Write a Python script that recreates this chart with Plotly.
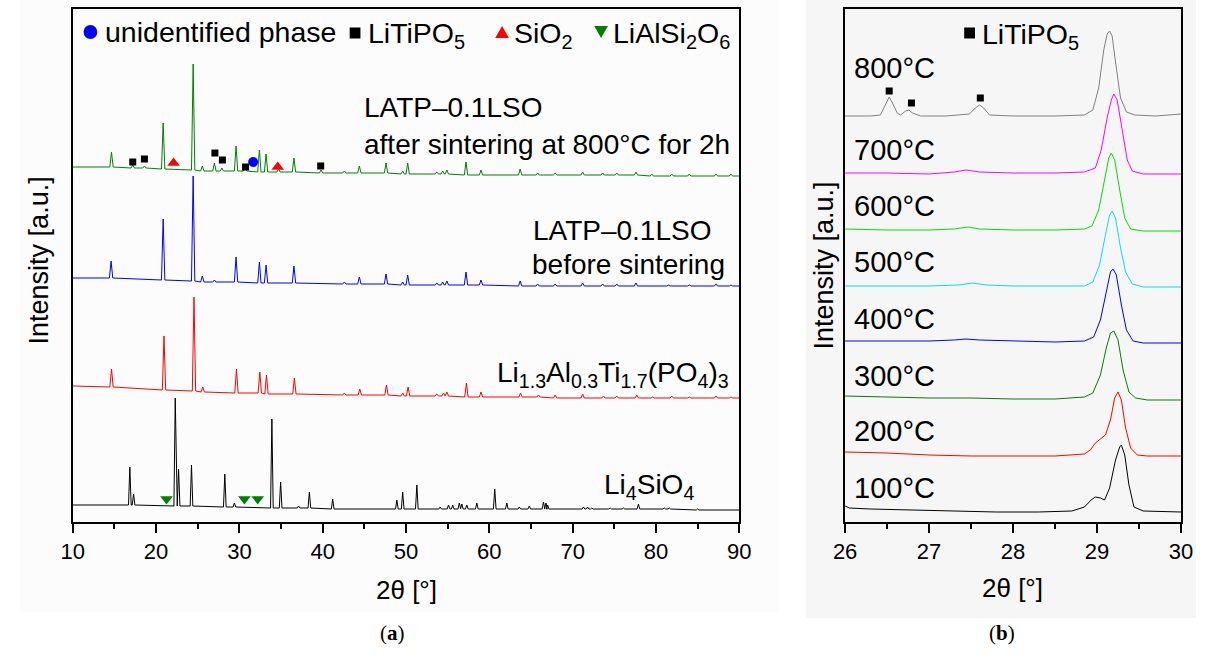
import plotly.graph_objects as go

W, H = 1208, 659

# ---------------- Panel (a) data : XRD patterns (2theta in deg, intensity a.u. incl. offset) ----------------
A_RANGE = [10, 90]

# LATP-0.1LSO after sintering at 800 C for 2h (green)
g_ends = [344, 335]
g_pos = [14.65, 17.2, 18.6, 20.85, 24.45, 25.55, 27.0, 27.9, 29.6, 30.7, 32.4, 33.2, 34.7, 36.55, 39.8, 42.6, 44.4,
         47.6, 49.6, 50.2, 53.7, 54.4, 54.9, 57.2, 59.0, 63.7, 65.8, 67.9, 71.2, 73.6, 75.3, 77.6, 79.5, 81.9, 84.0,
         87.2, 89.0]
g_base = [344, 343, 343, 342, 341, 340, 340, 340, 340, 340, 339, 339, 339, 339, 338, 338, 338, 338, 337, 337, 337,
          337, 337, 336, 336, 336, 336, 336, 336, 336, 336, 336, 335, 335, 335, 335, 335]
g_top = [359, 346, 345, 388, 447, 345, 348, 343, 365, 343, 361, 357, 342, 353, 341, 340, 345, 348, 340, 348, 339,
         340, 341, 349, 341, 342, 338, 338, 339, 338, 338, 339, 337, 337, 337, 337, 337]

# LATP-0.1LSO before sintering (blue)
b_ends = [233, 225]
b_pos = [14.6, 20.85, 24.45, 25.55, 27.0, 29.6, 32.4, 33.2, 36.55, 42.6, 44.4, 47.6, 49.6, 50.2, 53.7, 54.4, 54.9,
         57.2, 59.0, 63.7, 65.8, 67.9, 71.2, 73.6, 75.3, 77.6, 81.5, 84.0, 87.2, 89.0]
b_base = [233, 231, 230, 229, 229, 229, 228, 228, 228, 227, 227, 227, 226, 226, 226, 226, 226, 226, 226, 225, 225,
          225, 225, 225, 225, 225, 225, 225, 225, 225]
b_top = [250, 292, 335, 235, 231, 254, 249, 246, 245, 229, 234, 237, 229, 236, 228, 229, 230, 239, 231, 230, 227,
         227, 228, 227, 227, 228, 226, 226, 227, 226]

# Li1.3Al0.3Ti1.7(PO4)3 (red)
r_ends = [125, 113]
r_pos = [14.65, 20.95, 24.55, 25.6, 29.65, 32.45, 33.25, 36.6, 42.6, 44.45, 47.65, 49.6, 50.25, 53.7, 54.5, 54.9,
         57.25, 59.0, 63.75, 65.9, 67.9, 71.2, 73.7, 75.3, 77.7, 79.6, 81.9, 84.0, 87.2, 89.0]
r_base = [124, 121, 120, 119, 118, 118, 117, 117, 116, 116, 116, 115, 115, 115, 115, 115, 114, 114, 114, 114, 113,
          113, 113, 113, 113, 113, 113, 113, 113, 113]
r_top = [142, 175, 214, 124, 142, 139, 136, 133, 118, 122, 126, 118, 124, 117, 118, 119, 128, 119, 118, 116, 116,
         117, 115, 115, 116, 114, 115, 114, 115, 114]

# Li4SiO4 (black)
k_ends = [6, 1]
k_pos = [16.85, 17.3, 22.3, 22.7, 24.25, 28.25, 29.4, 33.9, 34.95, 37.1, 38.4, 41.2, 48.9, 49.6, 51.3, 54.1, 55.1,
         55.6, 56.4, 56.7, 57.3, 58.5, 60.65, 62.1, 63.6, 64.8, 66.5, 66.8, 67.0, 71.3, 71.8, 72.3, 74.5, 76.1, 77.9,
         81.0, 81.6, 85.0]
k_base = [6, 6, 5, 5, 5, 4, 4, 3, 3, 3, 3, 2, 2, 2, 2, 2, 2, 2, 2, 2, 2, 2, 2, 2, 2, 2, 2, 2, 2, 2, 2, 2, 2, 2, 2,
          2, 2, 1]
k_top = [44, 17, 113, 42, 46, 37, 8, 92, 29, 5, 19, 12, 11, 19, 26, 4, 6, 6, 8, 7, 6, 8, 22, 8, 4, 5, 9, 8, 6, 4, 4,
         3, 3, 3, 7, 3, 3, 2]

# phase markers (panel a)
litipo_x = [17.2, 18.6, 27.06, 27.96, 30.74, 39.76]
litipo_y = [349, 352, 358, 351, 344, 345]
sio2_x = [22.1, 34.6]
sio2_y = [348, 344]
unid_x = [31.65]
unid_y = [349]
lias_x = [21.25, 30.6, 32.2]
lias_y = [12, 12, 12]

# ---------------- Panel (b) data ----------------
B_RANGE = [26, 30]
t800_x = [26.0, 26.3, 26.42, 26.48, 26.525, 26.57, 26.62, 26.66, 26.72, 26.76, 26.80, 26.9, 27.2, 27.48, 27.55, 27.6,
          27.65, 27.72, 28.0, 28.5, 28.85, 28.95, 29.02, 29.08, 29.12, 29.15, 29.18, 29.22, 29.28, 29.35, 29.45, 29.7,
          30.0]
t800_y = [406, 406, 407, 417, 425, 418, 409, 407, 411, 412, 409, 406, 406, 408, 414, 417, 414, 407, 406, 406, 407,
          412, 434, 472, 488, 491, 486, 460, 424, 410, 407, 406, 408]
t700_x = [26.0, 26.5, 27.0, 27.3, 27.44, 27.6, 28.0, 28.5, 28.85, 28.98, 29.05, 29.12, 29.17, 29.2, 29.24, 29.3,
          29.36, 29.42, 29.55, 30.0]
t700_y = [349, 349, 348, 350, 352, 350, 349, 349, 350, 354, 372, 404, 422, 428, 422, 392, 362, 351, 348, 348]
t600_x = [26.0, 26.5, 27.0, 27.3, 27.46, 27.6, 28.0, 28.5, 28.85, 28.94, 29.02, 29.09, 29.14, 29.17, 29.21, 29.27,
          29.33, 29.4, 29.55, 30.0]
t600_y = [293, 292, 292, 293, 295, 293, 292, 292, 293, 296, 312, 342, 364, 369, 362, 332, 304, 293, 291, 291]
t500_x = [26.0, 26.5, 27.0, 27.35, 27.52, 27.68, 28.0, 28.5, 28.85, 28.95, 29.03, 29.1, 29.15, 29.18, 29.22, 29.28,
          29.34, 29.42, 29.55, 30.0]
t500_y = [236, 236, 236, 237, 239, 237, 236, 236, 236, 240, 257, 287, 307, 311, 304, 274, 250, 238, 235, 235]
t400_x = [26.0, 26.5, 27.0, 27.3, 27.44, 27.6, 28.0, 28.5, 28.85, 28.96, 29.04, 29.11, 29.16, 29.19, 29.23, 29.29,
          29.35, 29.43, 29.55, 30.0]
t400_y = [181, 181, 181, 182, 183, 182, 181, 180, 181, 185, 202, 232, 250, 253, 247, 217, 192, 181, 179, 179]
t300_x = [26.0, 26.5, 27.0, 27.5, 28.0, 28.5, 28.85, 28.95, 29.04, 29.11, 29.16, 29.2, 29.25, 29.31, 29.38, 29.46,
          29.6, 30.0]
t300_y = [126, 125, 124, 124, 123, 123, 125, 129, 147, 174, 189, 191, 182, 152, 130, 124, 122, 122]
t200_x = [26.0, 26.5, 27.0, 27.5, 28.0, 28.5, 28.85, 28.92, 28.98, 29.05, 29.1, 29.16, 29.21, 29.25, 29.29, 29.34,
          29.4, 29.48, 29.6, 30.0]
t200_y = [70, 69, 67, 66, 66, 66, 68, 72, 79, 84, 87, 102, 124, 130, 122, 94, 74, 67, 66, 66]
t100_x = [26.0, 26.05, 26.3, 26.8, 27.3, 27.8, 28.3, 28.7, 28.85, 28.93, 28.98, 29.04, 29.09, 29.15, 29.22, 29.27,
          29.29, 29.33, 29.38, 29.44, 29.55, 30.0]
t100_y = [16, 14, 13, 12, 11, 10, 10, 11, 15, 22, 25, 24, 22, 34, 62, 75, 77, 67, 37, 15, 11, 10]
b_sq_x = [26.525, 26.79, 27.61]
b_sq_y = [431, 419, 424]

temps = ["800°C", "700°C", "600°C", "500°C", "400°C", "300°C", "200°C", "100°C"]

# ---------------- helpers ----------------
def fx(px):
    return px / W


def fy(py):
    return 1 - py / H


def profile(ends, pos, base, top, hw, lo, hi):
    xs, ys = [lo], [ends[0]]
    for p, b, t in zip(pos, base, top):
        xs += [p - hw, p, p + hw]
        ys += [b, t, b]
    xs.append(hi)
    ys.append(ends[1])
    return xs, ys


fig = go.Figure()

# panel (a) traces
for ends, pos, base, top, col, hw in [
    (k_ends, k_pos, k_base, k_top, "black", 0.16),
    (r_ends, r_pos, r_base, r_top, "#ff0000", 0.2),
    (b_ends, b_pos, b_base, b_top, "#0000ff", 0.2),
    (g_ends, g_pos, g_base, g_top, "#008000", 0.2),
]:
    xs, ys = profile(ends, pos, base, top, hw, A_RANGE[0], A_RANGE[1])
    fig.add_trace(go.Scatter(x=xs, y=ys, mode="lines", line=dict(color=col, width=1),
                             xaxis="x", yaxis="y", showlegend=False, hoverinfo="skip"))

fig.add_trace(go.Scatter(x=litipo_x, y=litipo_y, mode="markers", xaxis="x", yaxis="y", showlegend=False,
                         marker=dict(symbol="square", size=7, color="black")))
fig.add_trace(go.Scatter(x=sio2_x, y=sio2_y, mode="markers", xaxis="x", yaxis="y", showlegend=False,
                         marker=dict(symbol="triangle-up", size=11, color="#ff0000")))
fig.add_trace(go.Scatter(x=unid_x, y=unid_y, mode="markers", xaxis="x", yaxis="y", showlegend=False,
                         marker=dict(symbol="circle", size=10, color="#0000ff")))
fig.add_trace(go.Scatter(x=lias_x, y=lias_y, mode="markers", xaxis="x", yaxis="y", showlegend=False,
                         marker=dict(symbol="triangle-down", size=11, color="#008000")))

# panel (b) traces
for xs, ys, col in [
    (t100_x, t100_y, "black"), (t200_x, t200_y, "#ff0000"), (t300_x, t300_y, "#008000"),
    (t400_x, t400_y, "#0000ff"), (t500_x, t500_y, "#00e0f0"), (t600_x, t600_y, "#00e000"),
    (t700_x, t700_y, "#ff00ff"), (t800_x, t800_y, "#808080"),
]:
    fig.add_trace(go.Scatter(x=xs, y=ys, mode="lines", line=dict(color=col, width=1),
                             xaxis="x2", yaxis="y2", showlegend=False, hoverinfo="skip"))
fig.add_trace(go.Scatter(x=b_sq_x, y=b_sq_y, mode="markers", xaxis="x2", yaxis="y2", showlegend=False,
                         marker=dict(symbol="square", size=7, color="black")))

FONT = "Liberation Sans, Arial, sans-serif"
TICKFONT = dict(family="Liberation Sans Narrow, Arial Narrow, Liberation Sans, Arial", size=22, color="black")

axis_common = dict(showline=True, linecolor="black", linewidth=1.5, mirror=True, showgrid=False, zeroline=False)

fig.update_layout(
    width=W, height=H, margin=dict(l=0, r=0, t=0, b=0),
    paper_bgcolor="white", plot_bgcolor="rgba(0,0,0,0)",
    xaxis=dict(domain=[fx(62), fx(742)], range=A_RANGE, tickvals=[10, 20, 30, 40, 50, 60, 70, 80, 90],
               ticks="outside", ticklen=9, tickwidth=1.5, tickcolor="black", tickfont=TICKFONT,
               minor=dict(ticks="outside", ticklen=5, tickwidth=1.5, tickcolor="black", dtick=5, tick0=10),
               anchor="y", **axis_common),
    yaxis=dict(domain=[fy(522), fy(9)], range=[-11, 502], showticklabels=False, ticks="", anchor="x",
               **axis_common),
    xaxis2=dict(domain=[fx(850), fx(1192.7)], range=B_RANGE, tickvals=[26, 27, 28, 29, 30],
                ticks="outside", ticklen=9, tickwidth=1.5, tickcolor="black", tickfont=TICKFONT,
                minor=dict(ticks="outside", ticklen=5, tickwidth=1.5, tickcolor="black", dtick=0.5, tick0=26),
                anchor="y2", **axis_common),
    yaxis2=dict(domain=[fy(522), fy(9)], range=[0, 513], showticklabels=False, ticks="", anchor="x2",
                **axis_common),
)

shapes = [
    dict(type="rect", xref="paper", yref="paper", x0=fx(8), x1=fx(782), y0=fy(612), y1=fy(0),
         fillcolor="#fcfcfc", line=dict(width=0), layer="below"),
    dict(type="rect", xref="paper", yref="paper", x0=fx(810), x1=fx(1208), y0=fy(618), y1=fy(0),
         fillcolor="#f6f6f6", line=dict(width=0), layer="below"),
]


def sq(cx, cy, h, col):
    return dict(type="rect", xref="paper", yref="paper", x0=fx(cx - h), x1=fx(cx + h), y0=fy(cy + h),
                y1=fy(cy - h), fillcolor=col, line=dict(width=0))


def tri(cx, cy, s, col, up=True):
    if up:
        pts = [(cx - s, cy + s * 0.85), (cx + s, cy + s * 0.85), (cx, cy - s * 0.85)]
    else:
        pts = [(cx - s, cy - s * 0.85), (cx + s, cy - s * 0.85), (cx, cy + s * 0.85)]
    path = "M " + " L ".join(f"{fx(a):.5f},{fy(b):.5f}" for a, b in pts) + " Z"
    return dict(type="path", xref="paper", yref="paper", path=path, fillcolor=col, line=dict(width=0))


shapes += [
    dict(type="circle", xref="paper", yref="paper", x0=fx(73), x1=fx(87), y0=fy(39), y1=fy(25),
         fillcolor="#0000ff", line=dict(width=0)),
    sq(350, 33, 5.5, "black"),
    tri(500, 32, 7, "#ff0000", up=True),
    tri(601, 32, 7, "#008000", up=False),
    sq(977, 33, 5.5, "black"),
]
fig.update_layout(shapes=shapes)

annotations = []


def ann(text, px, py, size=28, xanchor="left", yanchor="middle", family=FONT, angle=0):
    annotations.append(dict(text=text, x=fx(px), y=fy(py), xref="paper", yref="paper", showarrow=False,
                            xanchor=xanchor, yanchor=yanchor, textangle=angle,
                            font=dict(family=family, size=size, color="black")))


# legend panel (a)
ann("unidentified phase", 93, 32, size=28.5)
ann("LiTiPO<sub>5</sub>", 361, 35, size=28.5)
ann("SiO<sub>2</sub>", 510, 35, size=28.5)
ann("LiAlSi<sub>2</sub>O<sub>6</sub>", 611, 35, size=28.5)
# sample labels
ann("LATP–0.1LSO", 357, 107)
ann("after sintering at 800°C for 2h", 357, 145)
ann("LATP–0.1LSO", 530, 230)
ann("before sintering", 529, 264)
ann("Li<sub>1.3</sub>Al<sub>0.3</sub>Ti<sub>1.7</sub>(PO<sub>4</sub>)<sub>3</sub>", 734, 374, xanchor="right")
ann("Li<sub>4</sub>SiO<sub>4</sub>", 698, 487, xanchor="right")
# axis titles
ann("Intensity [a.u.]", 28, 260, size=27, xanchor="center", angle=-90)
ann("Intensity [a.u.]", 828, 266, size=27, xanchor="center", angle=-90)
ann("2θ [°]", 402, 590, size=26, xanchor="center")
ann("2θ [°]", 1021, 588, size=26, xanchor="center")
ann("(<b>a</b>)", 388, 633, size=21, xanchor="center", family="Liberation Serif, DejaVu Serif, serif")
ann("(<b>b</b>)", 1010, 633, size=21, xanchor="center", family="Liberation Serif, DejaVu Serif, serif")
# panel (b) legend and temperatures
ann("LiTiPO<sub>5</sub>", 988, 36, size=28.5)
for t, py in zip(temps, [68, 150, 206, 262, 319, 376, 431, 488]):
    ann(t, 857, py, size=29)

fig.update_layout(annotations=annotations)

fig.write_html("out.html", config={"displayModeBar": False},
               post_script="document.body.style.margin='0';document.body.style.overflow='hidden';")
